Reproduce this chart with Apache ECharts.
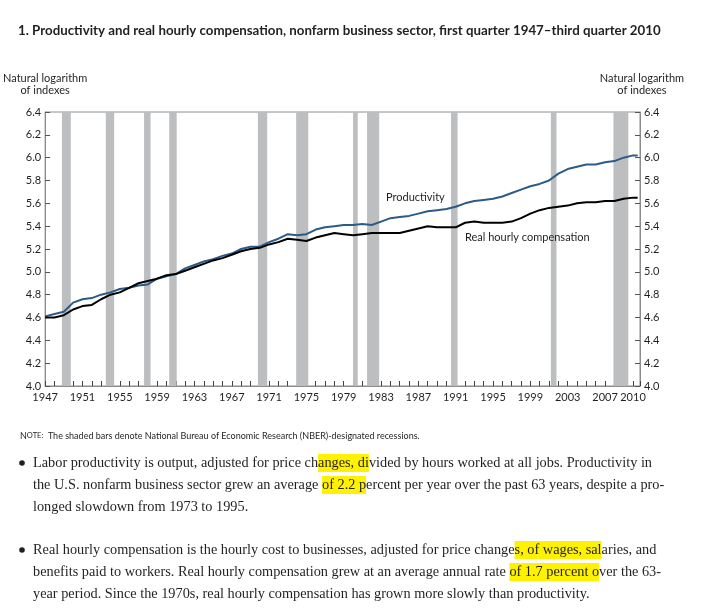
<!DOCTYPE html>
<html>
<head>
<meta charset="utf-8">
<script src="https://cdn.jsdelivr.net/npm/echarts@6/dist/echarts.min.js"></script>
<style>html,body{margin:0;padding:0;background:#fff;}#c{width:720px;height:611px;}</style>
</head>
<body>
<div id="c"></div>
<script>
// ---- data ----
var years = [1947,1948,1949,1950,1951,1952,1953,1954,1955,1956,1957,1958,1959,1960,1961,1962,1963,1964,1965,1966,1967,1968,1969,1970,1971,1972,1973,1974,1975,1976,1977,1978,1979,1980,1981,1982,1983,1984,1985,1986,1987,1988,1989,1990,1991,1992,1993,1994,1995,1996,1997,1998,1999,2000,2001,2002,2003,2004,2005,2006,2007,2008,2009,2010,2010.5];
var productivity = [4.61,4.63,4.65,4.73,4.76,4.77,4.80,4.82,4.85,4.86,4.88,4.89,4.94,4.96,4.98,5.03,5.06,5.09,5.11,5.14,5.16,5.20,5.22,5.22,5.26,5.29,5.33,5.32,5.33,5.37,5.39,5.40,5.41,5.41,5.42,5.41,5.44,5.47,5.48,5.49,5.51,5.53,5.54,5.55,5.57,5.60,5.62,5.63,5.64,5.66,5.69,5.72,5.75,5.77,5.80,5.86,5.90,5.92,5.94,5.94,5.96,5.97,6.00,6.02,6.02];
var compensation = [4.60,4.60,4.62,4.67,4.70,4.71,4.76,4.80,4.82,4.86,4.90,4.92,4.94,4.97,4.98,5.01,5.04,5.07,5.10,5.12,5.15,5.18,5.20,5.21,5.24,5.26,5.29,5.28,5.27,5.30,5.32,5.34,5.33,5.32,5.33,5.34,5.34,5.34,5.34,5.36,5.38,5.40,5.39,5.39,5.39,5.43,5.44,5.43,5.43,5.43,5.44,5.47,5.51,5.54,5.56,5.57,5.58,5.60,5.61,5.61,5.62,5.62,5.64,5.65,5.65];
var recessions = [[1948.8,1949.75],[1953.5,1954.4],[1957.6,1958.3],[1960.3,1961.1],[1969.8,1970.8],[1973.9,1975.2],[1980.0,1980.5],[1981.5,1982.8],[1990.5,1991.2],[2001.2,2001.8],[2007.9,2009.5]];
var xLabelYears = [1947,1951,1955,1959,1963,1967,1971,1975,1979,1983,1987,1991,1995,1999,2003,2007,2010];
var yTicks = {min: 4.0, max: 6.4, interval: 0.2};

var prodData = years.map(function(y, i){ return [y, productivity[i]]; });
var compData = years.map(function(y, i){ return [y, compensation[i]]; });
var areaData = recessions.map(function(r){ return [{xAxis: r[0]}, {xAxis: r[1]}]; });

var axisGray = '#8a8c8e';
var txt = '#231f20';
var sans = 'Lato';
var serif = '"Liberation Serif"';

var chart = echarts.init(document.getElementById('c'), null, {renderer: 'canvas'});
var yAxisCommon = {
  type: 'value', min: yTicks.min, max: yTicks.max, interval: yTicks.interval,
  splitLine: {show: false},
  axisLine: {show: true, lineStyle: {color: axisGray, width: 1}},
  axisTick: {show: true, inside: true, length: 5, lineStyle: {color: '#555'}},
  axisLabel: {color: txt, fontFamily: sans, fontSize: 11, margin: 4, formatter: function(v){ return v.toFixed(1); }},
  nameTextStyle: {color: txt, fontFamily: sans, fontSize: 11, lineHeight: 12, align: 'center'}
};
var bodyRich = {
  a: {fontFamily: serif, fontSize: 14.3, lineHeight: 22, fill: txt},
  h: {fontFamily: serif, fontSize: 14.3, lineHeight: 22, fill: txt, backgroundColor: '#fff200', padding: [2, 0]}
};
chart.setOption({
  animation: false,
  backgroundColor: '#fff',
  title: {
    text: '1. Productivity and real hourly compensation, nonfarm business sector, first quarter 1947\u2013third quarter 2010',
    left: 13, top: 19,
    textStyle: {fontFamily: sans, fontWeight: 'bold', fontSize: 13.3, color: txt}
  },
  grid: {left: 45, right: 80, top: 112, bottom: 225, show: true, borderColor: axisGray, borderWidth: 1},
  xAxis: {
    type: 'value', min: 1947, max: 2010.75, interval: 1,
    splitLine: {show: false},
    axisLine: {show: true, lineStyle: {color: axisGray}},
    axisTick: {show: true, inside: true, length: 5, lineStyle: {color: '#444'}},
    axisLabel: {
      color: txt, fontFamily: sans, fontSize: 11, margin: 6,
      showMinLabel: true, showMaxLabel: true,
      formatter: function(v){
        var r = Math.round(v);
        if (Math.abs(v - r) > 1e-6) return '';
        return xLabelYears.indexOf(r) >= 0 ? String(r) : '';
      }
    }
  },
  yAxis: [
    Object.assign({}, yAxisCommon, {position: 'left', name: 'Natural logarithm\nof indexes', nameLocation: 'end', nameGap: 16}),
    Object.assign({}, yAxisCommon, {position: 'right', name: 'Natural logarithm\nof indexes', nameLocation: 'end', nameGap: 16,
      nameTextStyle: Object.assign({}, yAxisCommon.nameTextStyle, {padding: [0, 0, 0, 4]})})
  ],
  series: [
    {
      name: 'Productivity', type: 'line', data: prodData, showSymbol: false, symbol: 'none',
      lineStyle: {color: '#2c5b88', width: 2}, z: 3,
      markArea: {silent: true, itemStyle: {color: '#bcbec0', opacity: 1}, data: areaData}
    },
    {
      name: 'Real hourly compensation', type: 'line', data: compData, showSymbol: false, symbol: 'none',
      lineStyle: {color: '#000', width: 2}, z: 4
    }
  ],
  graphic: [
    {type: 'text', x: 386, y: 197, z: 100, style: {text: 'Productivity', font: '11px Lato', fill: txt, verticalAlign: 'middle'}},
    {type: 'text', x: 465, y: 237, z: 100, style: {text: 'Real hourly compensation', font: '11px Lato', fill: txt, verticalAlign: 'middle'}},
    {type: 'text', x: 20, y: 436, z: 100, style: {
      text: '{n|N}{s|OTE:}{t|  The shaded bars denote National Bureau of Economic Research (NBER)-designated recessions.}',
      verticalAlign: 'middle',
      rich: {n: {fontFamily: sans, fontSize: 9, fill: txt}, s: {fontFamily: sans, fontSize: 7.5, fill: txt}, t: {fontFamily: sans, fontSize: 9, fill: txt}}
    }},
    {type: 'circle', z: 100, shape: {cx: 22, cy: 463, r: 2.8}, style: {fill: txt}},
    {type: 'text', x: 33, y: 452, z: 100, style: {
      text: '{a|Labor productivity is output, adjusted for price ch}{h|anges, di}{a|vided by hours worked at all jobs. Productivity in}\n' +
            '{a|the U.S. nonfarm business sector grew an average }{h|of 2.2 p}{a|ercent per year over the past 63 years, despite a pro-}\n' +
            '{a|longed slowdown from 1973 to 1995.}',
      rich: bodyRich
    }},
    {type: 'circle', z: 100, shape: {cx: 22, cy: 550, r: 2.8}, style: {fill: txt}},
    {type: 'text', x: 33, y: 539, z: 100, style: {
      text: '{a|Real hourly compensation is the hourly cost to businesses, adjusted for price change}{h|s, of wages, sal}{a|aries, and}\n' +
            '{a|benefits paid to workers. Real hourly compensation grew at an average annual rate }{h|of 1.7 percent o}{a|ver the 63-}\n' +
            '{a|year period. Since the 1970s, real hourly compensation has grown more slowly than productivity.}',
      rich: bodyRich
    }}
  ]
});
</script>
</body>
</html>
